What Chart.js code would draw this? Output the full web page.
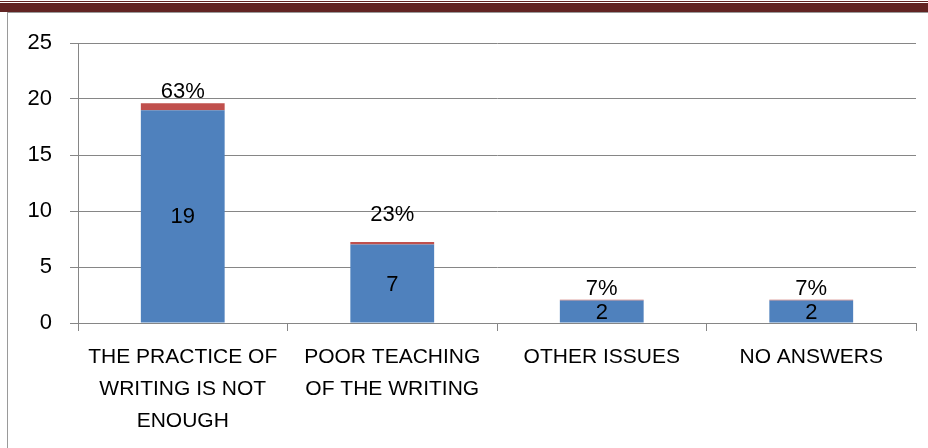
<!DOCTYPE html>
<html>
<head>
<meta charset="utf-8">
<script src="https://cdn.jsdelivr.net/npm/chart.js@4.4.1/dist/chart.umd.min.js"></script>
<style>
  html, body { margin: 0; padding: 0; background: #ffffff; }
  #page { position: relative; width: 928px; height: 448px; overflow: hidden; background: #ffffff; }
  #rule-thin { position: absolute; left: 0; top: 1px; width: 928px; height: 1px; background: #622423; }
  #rule-band { position: absolute; left: 0; top: 3px; width: 928px; height: 9px; background: #622423; }
  #frame { position: absolute; left: 7px; top: 12px; width: 940px; height: 460px;
           border-left: 1px solid #9a9a9a; border-top: 1px solid #9a9a9a; }
  #chart { position: absolute; left: 0; top: 0; }
</style>
</head>
<body>
<div id="page">
  <div id="rule-thin"></div>
  <div id="rule-band"></div>
  <div id="frame"></div>
  <canvas id="chart" width="928" height="448"></canvas>
</div>
<script>
// Answer categories (wrapped onto lines as shown under the axis)
const categories = [
  ['THE PRACTICE OF', 'WRITING IS NOT', 'ENOUGH'],
  ['POOR TEACHING', 'OF THE WRITING'],
  'OTHER ISSUES',
  'NO ANSWERS'
];
// Number of respondents per answer
const counts = [19, 7, 2, 2];
// Share of respondents per answer (stacked on top of the counts)
const shares = [0.63, 0.23, 0.07, 0.07];
// Value axis ticks
const yTicks = [0, 5, 10, 15, 20, 25];

const GRID = '#868686';
const FONT = 'Liberation Sans, Arial, sans-serif';

// Draws the count inside each blue bar and the percentage above each stack
const valueLabels = {
  id: 'valueLabels',
  afterDatasetsDraw(chart, args, opts) {
    const ctx = chart.ctx;
    ctx.save();
    ctx.fillStyle = '#000000';
    ctx.font = '22px ' + FONT;
    ctx.textAlign = 'center';
    const countMeta = chart.getDatasetMeta(0);
    countMeta.data.forEach((bar, i) => {
      ctx.textBaseline = 'middle';
      ctx.fillText(String(counts[i]), bar.x, (bar.y + bar.base) / 2 + 1);
    });
    const shareMeta = chart.getDatasetMeta(1);
    shareMeta.data.forEach((bar, i) => {
      ctx.textBaseline = 'alphabetic';
      const lift = opts.gap + (opts.extraLift[i] || 0);
      ctx.fillText(Math.round(shares[i] * 100) + '%', bar.x, bar.y - lift);
    });
    ctx.restore();
  }
};

new Chart(document.getElementById('chart'), {
  type: 'bar',
  data: {
    labels: categories,
    datasets: [
      { label: 'Count', data: counts, backgroundColor: '#4F81BD', borderWidth: 0,
        barPercentage: 0.4, categoryPercentage: 1 },
      { label: 'Share', data: shares, backgroundColor: '#C0504D', borderWidth: 0,
        barPercentage: 0.4, categoryPercentage: 1 }
    ]
  },
  options: {
    responsive: false,
    animation: false,
    events: [],
    layout: { padding: { top: 43, right: 12, left: 0, bottom: 0 } },
    plugins: {
      legend: { display: false },
      tooltip: { enabled: false },
      valueLabels: { gap: 5, extraLift: [0, 16, 0, 0] }
    },
    scales: {
      x: {
        stacked: true,
        afterFit(scale) { scale.height = 125; },
        grid: { display: true, drawOnChartArea: false, drawTicks: true, tickLength: 8,
                color: GRID, offset: true },
        border: { display: true, color: GRID },
        ticks: {
          color: '#000000', font: { family: FONT, size: 21, lineHeight: 1.52 },
          maxRotation: 0, minRotation: 0, autoSkip: false, padding: 10
        }
      },
      y: {
        stacked: true,
        min: 0, max: 25,
        afterFit(scale) { scale.width = 78; },
        afterBuildTicks(scale) { scale.ticks = yTicks.map(v => ({ value: v })); },
        grid: { color: GRID, drawTicks: true, tickLength: 8 },
        border: { display: true, color: GRID },
        ticks: { color: '#000000', font: { family: FONT, size: 22 }, padding: 18 }
      }
    }
  },
  plugins: [valueLabels]
});
</script>
</body>
</html>
